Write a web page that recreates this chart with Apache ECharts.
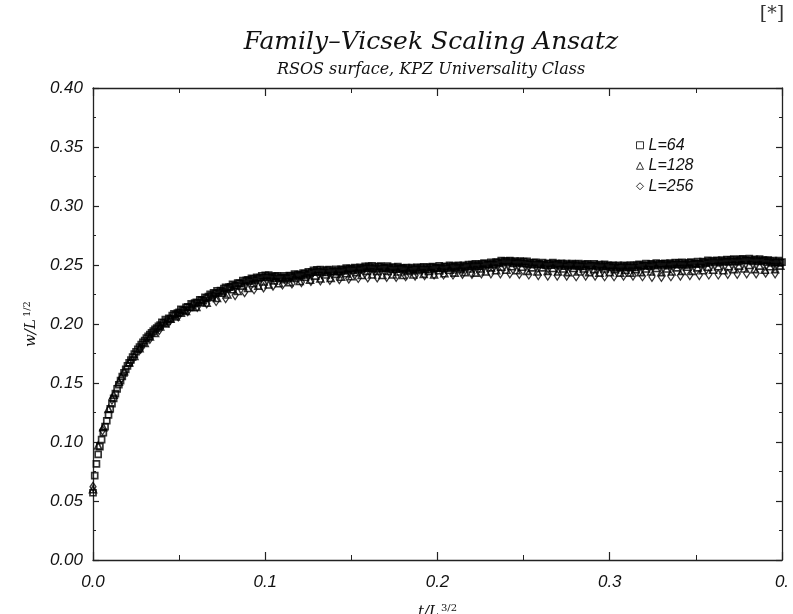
<!DOCTYPE html>
<html>
<head>
<meta charset="utf-8">
<script src="https://cdn.jsdelivr.net/npm/echarts@6/dist/echarts.min.js"></script>
<style>
  html, body { margin: 0; padding: 0; background: #fff; overflow: hidden; }
  #chart { width: 793px; height: 614px; }
</style>
</head>
<body>
<div id="chart"></div>
<script>
// Family–Vicsek collapse of the RSOS interface width: w/L^{1/2} against t/L^{3/2}.
const seriesNames = ['L=64', 'L=128', 'L=256'];

// Spacing of the recorded samples along t/L^{3/2} for each system size.
const dx64 = 0.001;
const dx128 = 0.003;
const dx256 = 0.0055;

// w/L^{1/2}, L = 64 (one row per 0.01 of t/L^{3/2})
const w64 = [
  0.0570, 0.0715, 0.0815, 0.0895, 0.0960, 0.1020, 0.1080, 0.1130, 0.1180, 0.1230,
  0.1280, 0.1325, 0.1370, 0.1410, 0.1450, 0.1485, 0.1520, 0.1555, 0.1585, 0.1615,
  0.1645, 0.1670, 0.1695, 0.1720, 0.1745, 0.1765, 0.1785, 0.1805, 0.1825, 0.1845,
  0.1860, 0.1880, 0.1895, 0.1910, 0.1925, 0.1940, 0.1955, 0.1965, 0.1980, 0.1990,
  0.2013, 0.2010, 0.2037, 0.2025, 0.2048, 0.2043, 0.2071, 0.2085, 0.2078, 0.2093,
  0.2099, 0.2124, 0.2117, 0.2116, 0.2142, 0.2145, 0.2141, 0.2171, 0.2161, 0.2178,
  0.2184, 0.2178, 0.2204, 0.2204, 0.2197, 0.2226, 0.2219, 0.2232, 0.2251, 0.2240,
  0.2263, 0.2257, 0.2280, 0.2265, 0.2284, 0.2276, 0.2300, 0.2311, 0.2300, 0.2312,
  0.2314, 0.2336, 0.2327, 0.2323, 0.2347, 0.2347, 0.2341, 0.2368, 0.2356, 0.2370,
  0.2374, 0.2364, 0.2386, 0.2382, 0.2371, 0.2396, 0.2385, 0.2394, 0.2409, 0.2394,
  0.2413, 0.2399, 0.2415, 0.2392, 0.2404, 0.2388, 0.2405, 0.2408, 0.2390, 0.2394,
  0.2389, 0.2408, 0.2396, 0.2389, 0.2410, 0.2407, 0.2398, 0.2422, 0.2407, 0.2418,
  0.2419, 0.2409, 0.2431, 0.2427, 0.2416, 0.2441, 0.2430, 0.2439, 0.2454, 0.2439,
  0.2458, 0.2445, 0.2462, 0.2440, 0.2453, 0.2438, 0.2456, 0.2460, 0.2443, 0.2448,
  0.2444, 0.2463, 0.2450, 0.2443, 0.2463, 0.2460, 0.2450, 0.2474, 0.2458, 0.2469,
  0.2469, 0.2457, 0.2477, 0.2471, 0.2458, 0.2481, 0.2468, 0.2475, 0.2488, 0.2471,
  0.2488, 0.2475, 0.2492, 0.2470, 0.2483, 0.2468, 0.2486, 0.2490, 0.2473, 0.2478,
  0.2474, 0.2490, 0.2475, 0.2465, 0.2483, 0.2477, 0.2465, 0.2486, 0.2468, 0.2476,
  0.2474, 0.2460, 0.2479, 0.2471, 0.2457, 0.2478, 0.2464, 0.2469, 0.2481, 0.2462,
  0.2478, 0.2466, 0.2484, 0.2463, 0.2477, 0.2463, 0.2482, 0.2487, 0.2471, 0.2477,
  0.2474, 0.2492, 0.2478, 0.2470, 0.2489, 0.2485, 0.2474, 0.2497, 0.2480, 0.2490,
  0.2489, 0.2476, 0.2496, 0.2489, 0.2476, 0.2498, 0.2485, 0.2491, 0.2504, 0.2486,
  0.2503, 0.2492, 0.2510, 0.2490, 0.2504, 0.2491, 0.2510, 0.2516, 0.2500, 0.2507,
  0.2504, 0.2523, 0.2511, 0.2504, 0.2525, 0.2522, 0.2513, 0.2537, 0.2522, 0.2533,
  0.2534, 0.2519, 0.2537, 0.2528, 0.2513, 0.2533, 0.2518, 0.2522, 0.2533, 0.2513,
  0.2528, 0.2514, 0.2530, 0.2507, 0.2519, 0.2503, 0.2520, 0.2523, 0.2505, 0.2509,
  0.2504, 0.2521, 0.2506, 0.2497, 0.2515, 0.2510, 0.2498, 0.2520, 0.2502, 0.2511,
  0.2509, 0.2495, 0.2513, 0.2505, 0.2490, 0.2511, 0.2496, 0.2501, 0.2512, 0.2493,
  0.2508, 0.2495, 0.2512, 0.2490, 0.2503, 0.2488, 0.2506, 0.2510, 0.2493, 0.2498,
  0.2494, 0.2510, 0.2495, 0.2485, 0.2503, 0.2497, 0.2485, 0.2506, 0.2488, 0.2496,
  0.2494, 0.2480, 0.2498, 0.2490, 0.2475, 0.2496, 0.2481, 0.2486, 0.2497, 0.2478,
  0.2493, 0.2482, 0.2500, 0.2480, 0.2494, 0.2481, 0.2500, 0.2506, 0.2490, 0.2497,
  0.2494, 0.2512, 0.2498, 0.2490, 0.2509, 0.2505, 0.2494, 0.2517, 0.2500, 0.2510,
  0.2509, 0.2496, 0.2515, 0.2508, 0.2494, 0.2516, 0.2502, 0.2508, 0.2520, 0.2502,
  0.2518, 0.2506, 0.2523, 0.2502, 0.2515, 0.2501, 0.2519, 0.2524, 0.2507, 0.2513,
  0.2509, 0.2528, 0.2515, 0.2508, 0.2528, 0.2525, 0.2515, 0.2539, 0.2523, 0.2534,
  0.2534, 0.2521, 0.2540, 0.2533, 0.2519, 0.2541, 0.2527, 0.2533, 0.2545, 0.2527,
  0.2543, 0.2531, 0.2549, 0.2528, 0.2542, 0.2528, 0.2547, 0.2552, 0.2536, 0.2542,
  0.2539, 0.2555, 0.2540, 0.2530, 0.2548, 0.2542, 0.2530, 0.2551, 0.2533, 0.2541,
  0.2539, 0.2524, 0.2542, 0.2533, 0.2518, 0.2538, 0.2523, 0.2527, 0.2538, 0.2518,
  0.2525
];

// w/L^{1/2}, L = 128
const w128 = [
  0.060, 0.097, 0.1125, 0.128, 0.140, 0.151, 0.160, 0.1675, 0.173, 0.1795,
  0.1840, 0.1895, 0.1925, 0.1980, 0.2005, 0.2045, 0.2065, 0.2095, 0.2110, 0.2145,
  0.2145, 0.2190, 0.2180, 0.2230, 0.2220, 0.2265, 0.2250, 0.2295, 0.2280, 0.2325,
  0.2305, 0.2345, 0.2325, 0.2360, 0.2335, 0.2370, 0.2345, 0.2380, 0.2355, 0.2390,
  0.2365, 0.2400, 0.2375, 0.2410, 0.2385, 0.2420, 0.2390, 0.2425, 0.2400, 0.2430,
  0.2405, 0.2440, 0.2415, 0.2450, 0.2420, 0.2450, 0.2415, 0.2450, 0.2420, 0.2445,
  0.2415, 0.2450, 0.2420, 0.2455, 0.2425, 0.2450, 0.2420, 0.2455, 0.2430, 0.2460,
  0.2435, 0.2465, 0.2440, 0.2470, 0.2435, 0.2470, 0.2445, 0.2480, 0.2455, 0.2485,
  0.2460, 0.2490, 0.2455, 0.2485, 0.2450, 0.2480, 0.2445, 0.2480, 0.2450, 0.2475,
  0.2445, 0.2470, 0.2440, 0.2475, 0.2445, 0.2470, 0.2440, 0.2465, 0.2435, 0.2470,
  0.2440, 0.2465, 0.2435, 0.2460, 0.2435, 0.2465, 0.2440, 0.2470, 0.2445, 0.2475,
  0.2440, 0.2470, 0.2445, 0.2480, 0.2450, 0.2485, 0.2450, 0.2480, 0.2455, 0.2485,
  0.2460, 0.2490, 0.2455, 0.2490, 0.2465, 0.2495, 0.2470, 0.2500, 0.2465, 0.2495,
  0.2460, 0.2490, 0.2465, 0.2495
];

// w/L^{1/2}, L = 256
const w256 = [
  0.062, 0.110, 0.136, 0.154, 0.168, 0.179, 0.1875, 0.195, 0.2015, 0.2065,
  0.211, 0.2145, 0.2175, 0.2195, 0.222, 0.2245, 0.227, 0.2295, 0.231, 0.2325,
  0.2335, 0.2345, 0.2355, 0.2365, 0.237, 0.2375, 0.238, 0.2385, 0.239, 0.2395,
  0.2395, 0.240, 0.240, 0.2405, 0.241, 0.2415, 0.242, 0.242, 0.242, 0.2425,
  0.2425, 0.243, 0.243, 0.243, 0.243, 0.2425, 0.242, 0.2415, 0.241, 0.241,
  0.241, 0.2405, 0.241, 0.241, 0.2405, 0.2405, 0.241, 0.241, 0.2405, 0.240,
  0.240, 0.2405, 0.241, 0.2415, 0.2415, 0.242, 0.242, 0.2425, 0.2425, 0.243,
  0.243, 0.2435, 0.243
];

// Axis ranges and steps
const xMin = 0, xMax = 0.4, xStep = 0.1;
const yMin = 0, yMax = 0.4, yStep = 0.05;

function pairs(values, dx) {
  return values.map((v, i) => [+(i * dx).toFixed(4), v]);
}

const chart = echarts.init(document.getElementById('chart'), null,
  { renderer: 'canvas', width: 793, height: 614 });

const ink = '#111';
const labelFont = { fontFamily: 'Liberation Sans', fontStyle: 'italic', fontSize: 17, color: ink };
const squareStroke = { color: 'transparent', borderColor: '#000', borderWidth: 1.7 };
const triStroke = { color: 'transparent', borderColor: '#000', borderWidth: 1.6 };
const diamondStroke = { color: 'transparent', borderColor: '#000', borderWidth: 1.3 };

function valueAxis(pos, min, max, step, showLabel, digits, tickLen, minorLen) {
  return {
    type: 'value', position: pos, min: min, max: max, interval: step,
    axisLine: { show: true, onZero: false, lineStyle: { color: '#222', width: 1.3 } },
    axisTick: { show: true, inside: true, length: tickLen, lineStyle: { color: '#222', width: 1.2 } },
    minorTick: { show: true, splitNumber: 2, length: minorLen, lineStyle: { color: '#222', width: 1 } },
    splitLine: { show: false },
    minorSplitLine: { show: false },
    axisLabel: Object.assign({
      show: showLabel, showMinLabel: true, showMaxLabel: true,
      formatter: v => v.toFixed(digits)
    }, labelFont)
  };
}

const xBottom = valueAxis('bottom', xMin, xMax, xStep, true, 1, 8, 5);
xBottom.axisLabel.margin = 14;
// the right-most label runs off the page edge
xBottom.axisLabel.formatter = v => (v >= xMax ? '0.' : v.toFixed(1));
xBottom.name = '{m|t/L}{s|3/2}';
xBottom.nameLocation = 'middle';
xBottom.nameGap = 43;
xBottom.nameTextStyle = {
  rich: {
    m: { fontFamily: 'DejaVu Serif', fontStyle: 'italic', fontSize: 15, color: ink },
    s: { fontFamily: 'DejaVu Serif', fontSize: 10, color: ink, padding: [0, 0, 9, 2] }
  }
};
const xTop = valueAxis('top', xMin, xMax, xStep, false, 1, 8, 5);

const yLeft = valueAxis('left', yMin, yMax, yStep, true, 2, 6, 3);
yLeft.axisLabel.margin = 10;
yLeft.name = '{m|w/L}{s|1/2}';
yLeft.nameLocation = 'middle';
yLeft.nameGap = 43;
yLeft.nameTextStyle = {
  rich: {
    m: { fontFamily: 'DejaVu Serif', fontStyle: 'italic', fontSize: 15, color: ink },
    s: { fontFamily: 'DejaVu Serif', fontSize: 10, color: ink, padding: [0, 0, 9, 2] }
  }
};
const yRight = valueAxis('right', yMin, yMax, yStep, false, 2, 6, 3);

chart.setOption({
  animation: false,
  backgroundColor: '#fff',
  grid: { left: 93, right: 11, top: 88, bottom: 54, containLabel: false, outerBoundsMode: 'none' },
  xAxis: [xBottom, xTop],
  yAxis: [yLeft, yRight],
  legend: {
    data: seriesNames,
    orient: 'vertical',
    left: 631,
    top: 131,
    itemWidth: 7,
    itemHeight: 7,
    itemGap: 2,
    selectedMode: false,
    itemStyle: { color: 'transparent', borderColor: '#000', borderWidth: 1 },
    textStyle: Object.assign({}, labelFont, { fontSize: 16, lineHeight: 18.5 })
  },
  graphic: [
    { type: 'text', x: 431, y: 42, silent: true,
      style: { text: 'Family\u2013Vicsek Scaling Ansatz', font: 'italic 25px "DejaVu Serif"', fill: ink, textAlign: 'center', textVerticalAlign: 'middle' } },
    { type: 'text', x: 431, y: 70, silent: true,
      style: { text: 'RSOS surface, KPZ Universality Class', font: 'italic 16px "DejaVu Serif"', fill: ink, textAlign: 'center', textVerticalAlign: 'middle' } },
    { type: 'text', x: 772, y: 14, silent: true,
      style: { text: '[*]', font: '19px "DejaVu Serif"', fill: '#333', textAlign: 'center', textVerticalAlign: 'middle' } }
  ],
  series: [
    { name: seriesNames[2], type: 'scatter', symbol: 'diamond', symbolSize: [6, 9],
      itemStyle: diamondStroke, data: pairs(w256, dx256), silent: true },
    { name: seriesNames[1], type: 'scatter', symbol: 'triangle', symbolSize: 7,
      itemStyle: triStroke, data: pairs(w128, dx128), silent: true },
    { name: seriesNames[0], type: 'scatter', symbol: 'rect', symbolSize: 6,
      itemStyle: squareStroke, data: pairs(w64, dx64), silent: true }
  ]
});
</script>
</body>
</html>
